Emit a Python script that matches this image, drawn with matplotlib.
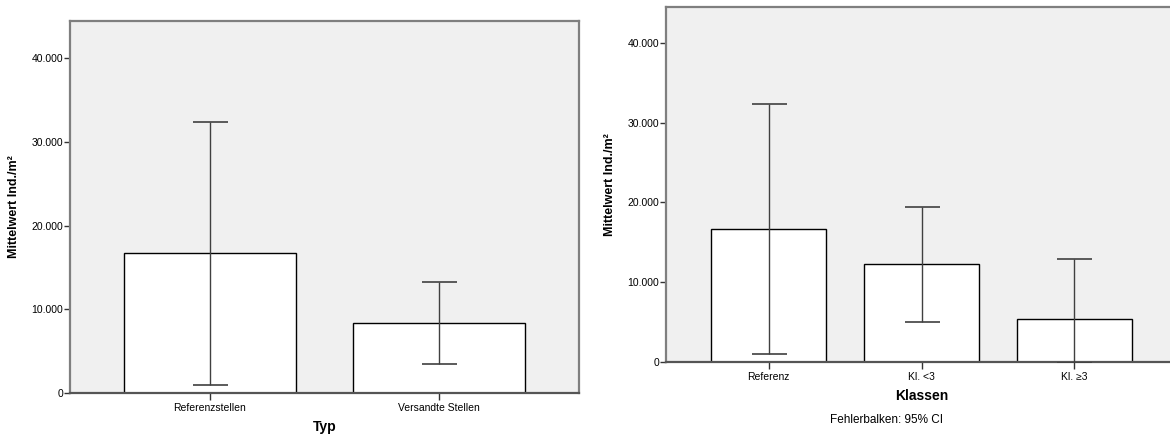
import matplotlib
matplotlib.use('Agg')
import matplotlib.pyplot as plt
from matplotlib.ticker import FuncFormatter

plt.rcParams['font.family'] = ['Liberation Sans', 'DejaVu Sans']

# data (Mittelwert Ind./m², 95% CI)
typ_labels = ['Referenzstellen', 'Versandte Stellen']
typ_mean = [16720, 8360]
typ_lo = [960, 3460]
typ_hi = [32360, 13220]

klassen_labels = ['Referenz', 'Kl. <3', 'Kl. ≥3']
klassen_mean = [16680, 12250, 5390]
klassen_lo = [1000, 5050, -100]
klassen_hi = [32350, 19470, 12920]

yticks = [0, 10000, 20000, 30000, 40000]

W, H = 1170, 436
fig = plt.figure(figsize=(W / 100, H / 100), dpi=100)

bg = '#f0f0f0'
spine_col = '#7f7f7f'
err_col = '#404040'


def setup(ax, labels, mean, lo, hi, xlim, ymax):
    x = list(range(len(labels)))
    err = [[m - l for m, l in zip(mean, lo)], [h - m for m, h in zip(mean, hi)]]
    ax.set_facecolor(bg)
    ax.bar(x, mean, width=0.75, color='white', edgecolor='black', linewidth=1.0, zorder=2)
    ax.errorbar(x, mean, yerr=err, fmt='none', ecolor=err_col, elinewidth=1.0,
                capsize=12.6, capthick=1.2, zorder=3)
    ax.set_xlim(*xlim)
    ax.set_ylim(0, ymax)
    ax.set_xticks(x)
    ax.set_xticklabels(labels, fontsize=7.5)
    ax.set_yticks(yticks)
    ax.yaxis.set_major_formatter(FuncFormatter(lambda v, p: '0' if v == 0 else '{:.3f}'.format(v / 1000)))
    ax.tick_params(axis='y', labelsize=7.5, length=4, width=1, color='#333333', pad=1)
    ax.tick_params(axis='x', length=5, width=1, color='#333333', pad=2)
    for s in ax.spines.values():
        s.set_color(spine_col)
        s.set_linewidth(1.6)
    ax.spines['bottom'].set_color('#555555')
    ax.set_ylabel('Mittelwert Ind./m²', fontsize=9, fontweight='bold', labelpad=8)


# left chart
ax1 = fig.add_axes([70 / W, (H - 393) / H, 509 / W, (393 - 21) / H])
setup(ax1, typ_labels, typ_mean, typ_lo, typ_hi, (-0.611, 1.611), 44420)
ax1.set_xlabel('Typ', fontsize=10, fontweight='bold', labelpad=5)

# right chart
ax2 = fig.add_axes([666 / W, (H - 362) / H, 511 / W, (362 - 7.5) / H])
setup(ax2, klassen_labels, klassen_mean, klassen_lo, klassen_hi, (-0.67, 2.67), 44450)
ax2.set_xlabel('Klassen', fontsize=10, fontweight='bold', labelpad=5)

fig.text(887 / W, 1 - 420 / H, 'Fehlerbalken: 95% CI', fontsize=8.5,
         ha='center', va='center')

fig.savefig('out.png', dpi=100)
